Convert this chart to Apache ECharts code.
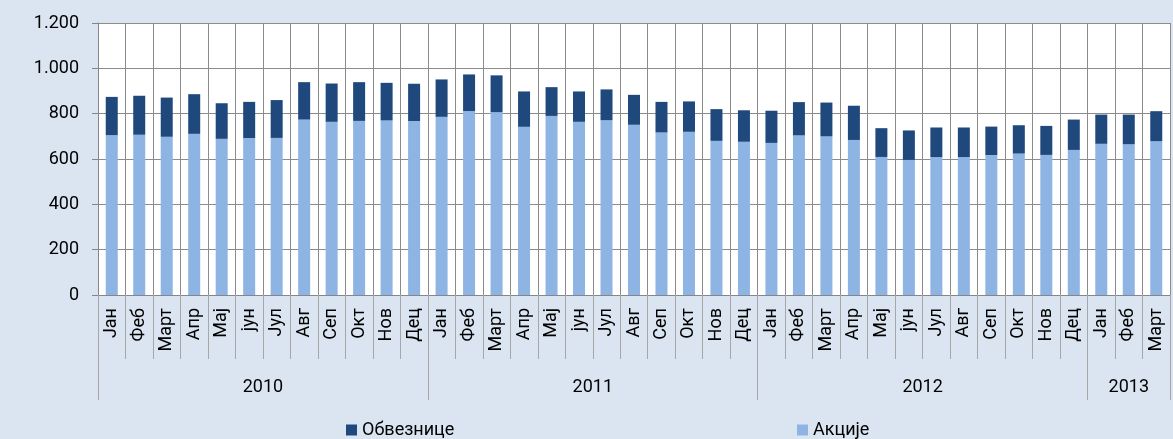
<!DOCTYPE html>
<html>
<head>
<meta charset="utf-8">
<script src="https://cdn.jsdelivr.net/npm/echarts@6/dist/echarts.min.js"></script>
<style>
  html, body { margin: 0; padding: 0; background: #dbe5f1; }
  #main { width: 1173px; height: 439px; }
</style>
</head>
<body>
<div id="main"></div>
<script>
// months, 2010 Jan .. 2013 Mar
var months = ['Јан','Феб','Март','Апр','Мај','јун','Јул','Авг','Сеп','Окт','Нов','Дец',
  'Јан','Феб','Март','Апр','Мај','јун','Јул','Авг','Сеп','Окт','Нов','Дец',
  'Јан','Феб','Март','Апр','Мај','јун','Јул','Авг','Сеп','Окт','Нов','Дец',
  'Јан','Феб','Март']
var years = ['2010', '2011', '2012', '2013']
var yearStart = [0, 12, 24, 36]   // first month index of each year
var yearLen = [12, 12, 12, 3]

// Акције (bottom part)
var akcije = [705, 707, 698, 711, 689, 692, 693, 774, 764, 768, 770, 767,
  786, 811, 807, 742, 790, 764, 771, 751, 717, 720, 680, 676,
  671, 704, 700, 684, 609, 596, 608, 608, 617, 624, 618, 640,
  667, 665, 679]
// Обвезнице (top part)
var obveznice = [169, 172, 173, 175, 157, 160, 167, 165, 169, 171, 166, 165,
  165, 162, 162, 156, 127, 134, 136, 132, 135, 134, 140, 139,
  142, 147, 149, 151, 127, 130, 131, 131, 126, 125, 128, 134,
  129, 131, 132]

var yTicks = [0, 200, 400, 600, 800, 1000, 1200]

// year axis uses half-month steps (boundaryGap false), 2 steps per month
var yearAxisData = []
for (var i = 0; i <= months.length * 2; i++) yearAxisData.push('')
var yearBounds = []
years.forEach(function (y, k) {
  yearAxisData[yearStart[k] * 2 + yearLen[k]] = y
  yearBounds.push(yearStart[k] * 2)
})
yearBounds.push(months.length * 2)

var font = 'Roboto'
var gridColor = '#8c8c8c'

var option = {
  backgroundColor: '#dbe5f1',
  animation: false,
  textStyle: { fontFamily: font },
  grid: { left: 98, right: 0, top: 23, bottom: 144, show: true, backgroundColor: '#ffffff', borderWidth: 0 },
  legend: [
    {
      data: ['Обвезнице'], left: 341, top: 416, icon: 'rect',
      itemWidth: 11, itemHeight: 11, itemGap: 4,
      textStyle: { fontFamily: font, fontSize: 18, color: '#000' }
    },
    {
      data: ['Акције'], left: 792, top: 416, icon: 'rect',
      itemWidth: 11, itemHeight: 11, itemGap: 4,
      textStyle: { fontFamily: font, fontSize: 18, color: '#000' }
    }
  ],
  xAxis: [
    {
      type: 'category',
      data: months,
      position: 'bottom',
      axisLine: { show: true, lineStyle: { color: '#868686' } },
      axisTick: { show: true, length: 64, interval: 0, lineStyle: { color: '#a6a6a6' } },
      axisLabel: { interval: 0, rotate: 90, margin: 13, fontSize: 18, color: '#000', fontFamily: font },
      splitLine: { show: true, interval: 0, lineStyle: { color: gridColor } }
    },
    {
      type: 'category',
      data: yearAxisData,
      boundaryGap: false,
      position: 'bottom',
      offset: 0,
      axisLine: { show: false },
      axisTick: {
        show: true, length: 105,
        interval: function (idx) { return yearBounds.indexOf(idx) >= 0 },
        lineStyle: { color: '#a6a6a6' }
      },
      axisLabel: { interval: 0, margin: 83, fontSize: 18, color: '#000', fontFamily: font },
      splitLine: { show: false }
    }
  ],
  yAxis: {
    type: 'value',
    min: yTicks[0],
    max: yTicks[yTicks.length - 1],
    interval: yTicks[1] - yTicks[0],
    axisLine: { show: true, lineStyle: { color: '#868686' } },
    axisTick: { show: true, length: 6, lineStyle: { color: '#868686' } },
    axisLabel: {
      margin: 19, fontSize: 18, color: '#000', fontFamily: font,
      formatter: function (v) { return String(v).replace(/\B(?=(\d{3})+(?!\d))/g, '.') }
    },
    splitLine: { show: true, lineStyle: { color: gridColor } }
  },
  series: [
    {
      name: 'Акције',
      type: 'bar',
      stack: 'total',
      barWidth: 12,
      itemStyle: { color: '#8db4e2' },
      data: akcije
    },
    {
      name: 'Обвезнице',
      type: 'bar',
      stack: 'total',
      barWidth: 12,
      itemStyle: { color: '#1f497d' },
      data: obveznice
    }
  ]
}

var mainEcharts = echarts.init(document.getElementById('main'))
mainEcharts.setOption(option)
</script>
</body>
</html>
